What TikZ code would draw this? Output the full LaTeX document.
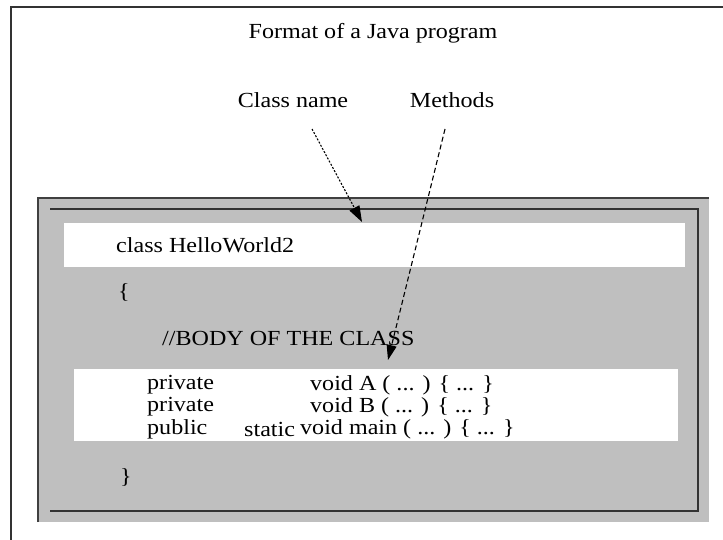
\documentclass[tikz,border=0pt]{standalone}
\usepackage{fontspec}
\setmainfont[FakeStretch=1.12]{Liberation Serif}
\usetikzlibrary{arrows.meta}
\begin{document}
\begin{tikzpicture}[x=1pt,y=-1pt,
  txt/.style={inner sep=0pt, font=\fontsize{21.5}{25}\selectfont, anchor=west},
  lbl/.style={inner sep=0pt, font=\fontsize{21.5}{25}\selectfont, anchor=center},
  frameline/.style={line width=2.2pt, draw=black!80},
  dotptr/.style={line width=1.1pt, dash pattern=on 2pt off 1.6pt, -{Triangle[length=16pt,width=11pt]}},
  dashptr/.style={line width=1.1pt, dash pattern=on 5pt off 3pt, -{Triangle[length=15pt,width=10pt]}}]
\useasboundingbox[fill=white] (0,0) rectangle (723,540);
% outer frame (left and top visible)
\draw[frameline] (11,540) -- (11,7) -- (723,7);
% grey panel
\fill[black!25] (38,198) rectangle (709,522);
\draw[line width=1.5pt, black!75] (38,522) -- (38,198) -- (709,198);
\draw[frameline] (50,209) -- (698,209) -- (698,511) -- (50,511);
% white bands
\fill[white] (64,223) rectangle (685,267);
\fill[white] (74,369) rectangle (678,441);
% texts
\node[lbl] (title) at (373,33) {Format of a Java program};
\node[lbl] (cname) at (293,100) {Class name};
\node[lbl] (meth) at (452,100) {Methods};
\node[txt] (cls) at (116,245) {class HelloWorld2};
\node[txt] (ob) at (118,292) {\{};
\node[txt] (body) at (162,338) {//BODY OF THE CLASS};
\node[txt] (p1) at (147,385) {private};
\node[txt] (m1) at (310,385) {void A ( ... ) \{ ... \}};
\node[txt] (p2) at (147,407) {private};
\node[txt] (m2) at (310,407) {void B ( ... ) \{ ... \}};
\node[txt] (p3) at (147,429) {public};
\node[txt] (s3) at (244,429) {static};
\node[txt] (m3) at (300,429) {void main ( ... ) \{ ... \}};
\node[txt] (cb) at (120,477) {\}};
% pointers
\coordinate (cs) at (312,129);
\coordinate (ct) at (362,222);
\coordinate (ms) at (445,129);
\coordinate (mt) at (388,360);
\draw[dotptr] (cs) -- (ct);
\draw[dashptr] (ms) -- (mt);
\end{tikzpicture}
\end{document}
